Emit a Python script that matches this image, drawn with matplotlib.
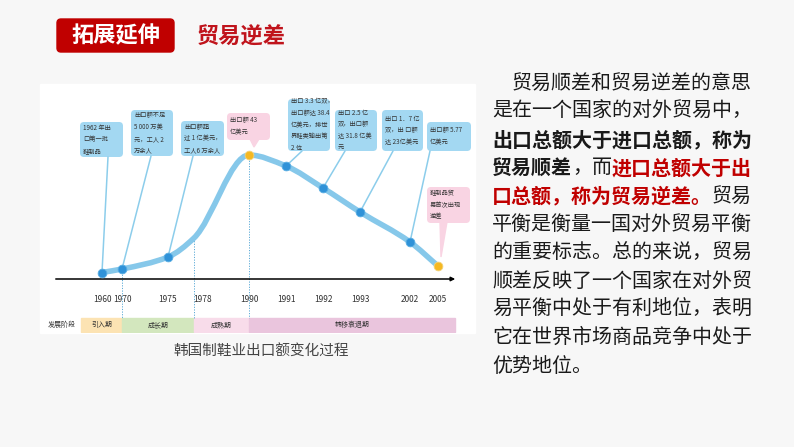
import numpy as np
import matplotlib
matplotlib.use("Agg")
import matplotlib.pyplot as plt
from matplotlib.patches import FancyBboxPatch, Rectangle, PathPatch, Polygon
from matplotlib.path import Path

plt.rcParams['font.family'] = ['Noto Sans CJK SC', 'DejaVu Sans']

# --- chart data (relative export level) ---
years = ['1960', '1970', '1975', '1978', '1990', '1991', '1992', '1993', '2002', '2005']
export_level = [6.5, 10, 22, 41, 124, 113, 91, 67, 37, 13]
highlight = ['1990', '2005']
no_marker = ['1978']
phase_names = ['引入期', '成长期', '成熟期', '转移衰退期']
phase_bounds = ['1970', '1978', '1990']
box_texts = [
    '1962 年出\n口第一批\n鞋制品',
    '出口额不足\n5 000 万美\n元，工人 2\n万余人',
    '出口额超\n过 1 亿美元，\n工人6 万余人',
    '出口额 43\n亿美元',
    '出口 3.3 亿双，\n出口额达 38.4\n亿美元，排世\n界鞋类输出第\n2 位',
    '出口 2.5 亿\n双，出口额\n达 31.8 亿美\n元',
    '出口 1．7 亿\n双，出 口额\n达 23亿美元',
    '出口额 5.77\n亿美元',
    '鞋制品贸\n易首次出现\n逆差',
]
box_years = ['1960', '1970', '1975', '1990', '1991', '1992', '1993', '2002', '2005']

# layout: slot position of each year on the timeline (pixels), boxes etc.
slot_x = [102, 122, 168, 194, 249, 286, 323, 360, 410, 438]
box_geom = [(80, 122, 43, 35), (131, 110, 42, 46), (181, 121, 43, 35),
            (227, 113, 43, 27), (288, 99, 42, 52), (335, 110, 42, 41),
            (382, 110, 41, 41), (427, 122, 44, 29), (427, 187, 43, 36)]
box_anchor = [108, 151, 193, None, 302, 345, 393, 430, None]
pink = [False, False, False, True, False, False, False, False, True]

BLUE_BOX = '#A3D8F2'
PINK_BOX = '#F9D4E3'
CURVE = '#86C8EA'
DOT = '#2F92D8'
GOLD = '#F5B822'
RED = '#C00000'

fig = plt.figure(figsize=(7.94, 4.47), dpi=100)
fig.patch.set_facecolor('#F7F7F7')

bg = fig.add_axes([0, 0, 1, 1])
bg.set_xlim(0, 794)
bg.set_ylim(447, 0)
bg.axis('off')

# white picture area
bg.add_patch(Rectangle((40, 84), 435, 249, color='white', zorder=0))

# header
bg.add_patch(FancyBboxPatch((57, 19), 117, 33, boxstyle='round,pad=0,rounding_size=4',
                            color=RED, zorder=1))
bg.text(116, 36, '拓展延伸', color='white', fontsize=16, fontweight='bold',
        ha='center', va='center')
bg.text(197, 37, '贸易逆差', color='#C0141C', fontsize=16, fontweight='bold',
        ha='left', va='center')

# annotation boxes
for (bx, by, bw, bh), txt, pk in zip(box_geom, box_texts, pink):
    bg.add_patch(FancyBboxPatch((bx, by), bw, bh, boxstyle='round,pad=0,rounding_size=4',
                                facecolor=PINK_BOX if pk else BLUE_BOX,
                                edgecolor='none', zorder=2))
    bg.text(bx + 3, by + bh / 2, txt, fontsize=4.5, color='#333333', ha='left',
            va='center', linespacing=1.6, zorder=3)

# pink box pointers
bg.add_patch(Polygon([(250, 139), (259, 139), (254, 147)], color=PINK_BOX, zorder=2))
bg.add_patch(Polygon([(440, 222), (447, 222), (441, 257)], color=PINK_BOX, zorder=2))

# caption
bg.text(261, 352, '韩国制鞋业出口额变化过程', fontsize=10.5, color='#444444',
        ha='center', va='center')

# right paragraph, runs: (text, bold, red)
para = [
    [('贸易顺差和贸易逆差的意思', False, False)],
    [('是在一个国家的对外贸易中，', False, False)],
    [('出口总额大于进口总额，称为', True, False)],
    [('贸易顺差', True, False), ('，而', False, False), ('进口总额大于出', True, True)],
    [('口总额，称为贸易逆差。', True, True), ('贸易', False, False)],
    [('平衡是衡量一国对外贸易平衡', False, False)],
    [('的重要标志。总的来说，贸易', False, False)],
    [('顺差反映了一个国家在对外贸', False, False)],
    [('易平衡中处于有利地位，表明', False, False)],
    [('它在世界市场商品竞争中处于', False, False)],
    [('优势地位。', False, False)],
]
em = 20.0
for i, runs in enumerate(para):
    x = 492 + (em if i == 0 else 0)
    y = 83 + i * 28.3
    for txt, bold, red in runs:
        bg.text(x, y, txt, fontsize=14.4, fontweight='bold' if bold else 'normal',
                color=RED if red else '#1A1A1A', ha='left', va='center')
        x += em * len(txt)

# --- data axes: 1 unit = 1 pixel, value 0 on the time axis ---
ax = fig.add_axes([40 / 794, (447 - 333) / 447, 435 / 794, 249 / 447])
ax.set_xlim(40, 475)
ax.set_ylim(-54, 195)
ax.patch.set_alpha(0)
ax.axis('off')

xs = np.array(slot_x, float)
ys = np.array(export_level, float)

# monotone cubic (pchip) tangents, drawn as bezier path
h = np.diff(xs)
d = np.diff(ys) / h
m = np.zeros_like(ys)
m[0], m[-1] = d[0], d[-1]
for k in range(1, len(xs) - 1):
    if d[k - 1] * d[k] <= 0:
        m[k] = 0
    else:
        w1 = 2 * h[k] + h[k - 1]
        w2 = h[k] + 2 * h[k - 1]
        m[k] = (w1 + w2) / (w1 / d[k - 1] + w2 / d[k])
verts = [(xs[0], ys[0])]
codes = [Path.MOVETO]
for k in range(len(xs) - 1):
    verts += [(xs[k] + h[k] / 3, ys[k] + m[k] * h[k] / 3),
              (xs[k + 1] - h[k] / 3, ys[k + 1] - m[k + 1] * h[k] / 3),
              (xs[k + 1], ys[k + 1])]
    codes += [Path.CURVE4] * 3
ax.add_patch(PathPatch(Path(verts, codes), facecolor='none', edgecolor=CURVE,
                       lw=4.0, capstyle='round', zorder=3))

# markers
for yr, x, v in zip(years, xs, ys):
    if yr in no_marker:
        continue
    c = GOLD if yr in highlight else DOT
    ax.plot(x, v, 'o', ms=6.3, color=c, mec='#F2D27A' if yr in highlight else '#5AAEE3',
            mew=0.6, zorder=5)

# time axis
ax.annotate('', xy=(458, 0), xytext=(53, 0),
            arrowprops=dict(arrowstyle='-|>', lw=1.1, color='black', mutation_scale=6))
for yr, x in zip(years, xs):
    tx = x + 9 if yr == '1978' else x
    ax.text(tx, -21, yr, fontsize=6, color='#333333', ha='center', va='center')

# dotted guides
for yr in phase_bounds:
    i = years.index(yr)
    ax.plot([xs[i], xs[i]], [ys[i], -39], ls=(0, (1.2, 1.5)), lw=0.7, color='#5BAAD6', zorder=2)

# phase bar
edges = [81] + [xs[years.index(yr)] for yr in phase_bounds] + [455]
phase_colors = ['#FCE3B3', '#D3E7BE', '#F8DCEA', '#EAC5DD']
for name, x0, x1, c in zip(phase_names, edges[:-1], edges[1:], phase_colors):
    ax.add_patch(Rectangle((x0, -53), x1 - x0, 14, color=c, zorder=1))
    ax.text((x0 + x1) / 2, -46, name, fontsize=5, color='#333333', ha='center', va='center')
ax.text(62, -46, '发展阶段', fontsize=5, color='#333333', ha='center', va='center')

# connectors from boxes to data points
for (bx, by, bw, bh), ax_x, yr in zip(box_geom, box_anchor, box_years):
    if ax_x is None:
        continue
    i = years.index(yr)
    ax.annotate('', xy=(xs[i], ys[i]), xycoords='data', xytext=(ax_x, by + bh),
                textcoords=bg.transData,
                arrowprops=dict(arrowstyle='-', lw=1.1, color='#8CCDEB',
                                shrinkA=0, shrinkB=0), zorder=2)

fig.savefig('out.png', dpi=100, facecolor=fig.get_facecolor())
